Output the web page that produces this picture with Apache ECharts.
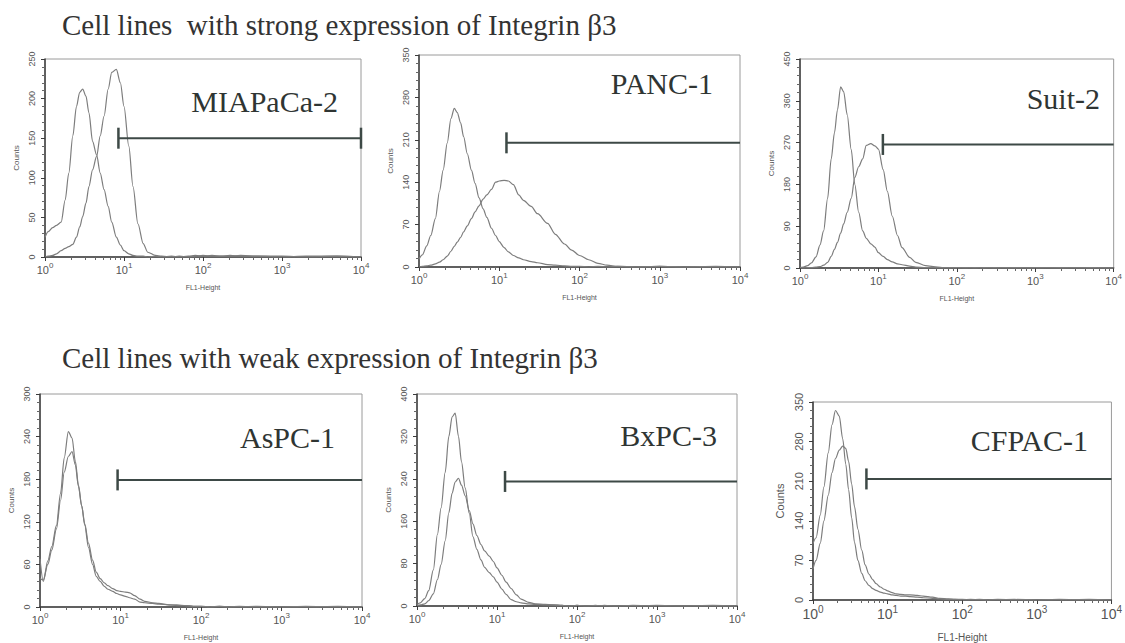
<!DOCTYPE html>
<html>
<head>
<meta charset="utf-8">
<script src="https://cdn.jsdelivr.net/npm/echarts@6/dist/echarts.min.js"></script>
<style>
html, body { margin: 0; padding: 0; background: #fff; }
#container { width: 1125px; height: 643px; }
</style>
</head>
<body>
<div id="container"></div>
<script>
// FL1 channel positions shared by all histograms
var fl1 = [1, 1.1, 1.25, 1.4, 1.6, 1.8, 2, 2.25, 2.5, 2.75,
    3, 3.3, 3.6, 4, 4.5, 5, 5.6, 6.3, 7, 8,
    9, 10, 11.5, 13, 15, 17.5, 20, 25, 30, 40,
    50, 65, 80, 100, 130, 170, 220, 300, 500, 1000,
    2000, 5000, 10000];

// counts, control (left peak) and anti-integrin b3 (stained)
var miaControl = [25, 32, 37, 40, 44, 72, 106, 153, 190, 208,
    212, 203, 182, 146, 129, 106, 85, 64, 44, 25,
    15, 8, 4, 2, 1, 1, 0, 1, 0, 1,
    0, 1, 2, 1, 2, 1, 2, 1, 1, 0,
    1, 1, 0];
var miaStained = [0, 1, 2, 4, 8, 11, 13, 16, 25, 38,
    51, 68, 89, 110, 127, 153, 178, 212, 233, 237,
    220, 190, 140, 89, 42, 17, 6, 2, 1, 0,
    1, 0, 1, 2, 1, 1, 1, 2, 1, 1,
    0, 1, 0];

var pancControl = [13, 20, 35, 52, 80, 125, 160, 205, 245, 262,
    255, 238, 215, 187, 160, 138, 114, 96, 82, 64,
    52, 42, 32, 25, 19, 15, 12, 9, 7, 4,
    3, 2, 1, 1, 0, 1, 0, 1, 0, 1,
    0, 0, 0];
var pancStained = [0, 1, 2, 3, 5, 8, 12, 18, 26, 34,
    41, 49, 58, 68, 80, 91, 101, 112, 119, 128,
    140, 142, 143, 142, 136, 119, 110, 100, 88, 72,
    54, 38, 28, 19, 12, 6, 3, 1, 0, 1,
    0, 1, 0];

var suitControl = [1, 2, 5, 11, 24, 50, 80, 150, 235, 291,
    340, 390, 380, 330, 255, 180, 120, 80, 64, 52,
    45, 33, 25, 18, 13, 9, 7, 4, 2, 1,
    1, 0, 1, 0, 1, 0, 1, 0, 1, 0,
    1, 0, 0];
var suitStained = [0, 0, 1, 1, 2, 3, 6, 12, 25, 40,
    55, 75, 95, 120, 150, 195, 218, 235, 264, 268,
    263, 256, 212, 165, 112, 70, 44, 23, 12, 5,
    3, 1, 0, 1, 0, 1, 0, 1, 0, 1,
    0, 1, 0];

var aspcControl = [68, 36, 65, 85, 115, 160, 210, 247, 238, 205,
    172, 142, 115, 84, 60, 43, 36, 29, 25, 22,
    19, 17, 15, 13, 11, 7, 6, 5, 4, 3,
    2, 2, 1, 1, 0, 1, 0, 0, 1, 0,
    0, 1, 0];
var aspcStained = [40, 38, 60, 80, 110, 150, 190, 212, 219, 200,
    170, 142, 117, 90, 66, 49, 40, 34, 30, 26,
    23, 22, 21, 20, 16, 11, 8, 6, 5, 3,
    3, 2, 1, 1, 0, 1, 0, 1, 0, 0,
    1, 0, 0];

var bxpcControl = [3, 6, 14, 29, 68, 135, 185, 252, 320, 357,
    364, 320, 272, 223, 175, 131, 107, 87, 73, 63,
    55, 45, 32, 22, 12, 8, 6, 4, 3, 2,
    2, 1, 0, 1, 0, 0, 1, 0, 0, 1,
    0, 0, 0];
var bxpcStained = [1, 2, 4, 10, 23, 50, 78, 123, 176, 213,
    234, 241, 228, 208, 180, 155, 133, 116, 104, 94,
    84, 72, 58, 45, 33, 21, 13, 7, 4, 3,
    2, 1, 0, 1, 0, 1, 0, 0, 1, 0,
    0, 1, 0];

var cfpacControl = [100, 110, 150, 200, 260, 310, 335, 325, 285, 240,
    195, 145, 102, 70, 47, 34, 26, 20, 17, 14,
    12, 11, 9, 8, 7, 7, 6, 5, 4, 3,
    2, 1, 1, 0, 1, 0, 0, 1, 0, 0,
    1, 0, 0];
var cfpacStained = [55, 70, 100, 140, 185, 225, 250, 265, 272, 268,
    245, 205, 165, 125, 88, 62, 46, 36, 29, 23,
    19, 16, 13, 11, 10, 9, 9, 8, 7, 5,
    3, 2, 1, 1, 0, 1, 0, 0, 1, 0,
    0, 1, 0];

var cellLines = ['MIAPaCa-2', 'PANC-1', 'Suit-2', 'AsPC-1', 'BxPC-3', 'CFPAC-1'];
var controls = [miaControl, pancControl, suitControl, aspcControl, bxpcControl, cfpacControl];
var stained = [miaStained, pancStained, suitStained, aspcStained, bxpcStained, cfpacStained];
var countMax = [250, 350, 450, 300, 400, 350];
var gateStart = [8.5, 12.3, 11.4, 9.2, 12.6, 5.2];
var gateLevel = [150, 205, 266, 179, 235, 214];

var titles = ['Cell lines  with strong expression of Integrin \u03b23',
    'Cell lines with weak expression of Integrin \u03b23'];

// layout (pixels)
var boxes = [
    {left: 45, top: 59, width: 316, height: 198},
    {left: 419, top: 55, width: 321, height: 212},
    {left: 800, top: 59, width: 319, height: 209},
    {left: 40, top: 394, width: 322, height: 213},
    {left: 417, top: 394, width: 320, height: 212},
    {left: 813, top: 402, width: 301, height: 200}
];
var labelPos = [[338, 101], [713, 83], [1100, 98], [335, 437], [717, 435], [1088, 440]];

var dom = document.getElementById('container');
var myChart = echarts.init(dom, null, {renderer: 'svg'});

var grids = [], xAxes = [], yAxes = [], series = [], graphics = [];
var axisColor = '#3c3c3c';
var textColor = '#555';

for (var i = 0; i < 6; i++) {
    var big = (i === 5);
    grids.push({
        left: boxes[i].left, top: boxes[i].top,
        width: boxes[i].width, height: boxes[i].height,
        show: true, borderColor: '#9a9a9a', borderWidth: 1, backgroundColor: 'transparent'
    });
    xAxes.push({
        gridIndex: i, type: 'log', logBase: 10, min: 1, max: 10000,
        axisLine: {show: true, lineStyle: {color: axisColor, width: 1.5}},
        axisTick: {show: true, length: 4, lineStyle: {color: axisColor}},
        minorTick: {show: true, splitNumber: 8, length: 3, lineStyle: {color: '#666'}},
        splitLine: {show: false},
        axisLabel: {
            margin: 4,
            formatter: function (v) {
                return '{b|10}{s|' + Math.round(Math.log10(v)) + '}';
            },
            rich: {
                b: {fontSize: big ? 14 : 11, color: textColor, fontFamily: 'Liberation Sans', verticalAlign: 'bottom'},
                s: {fontSize: big ? 10 : 8, color: textColor, fontFamily: 'Liberation Sans', verticalAlign: 'top', padding: [0, 0, big ? 7 : 6, 0]}
            }
        },
        name: 'FL1-Height', nameLocation: 'middle', nameGap: big ? 32 : 27,
        nameTextStyle: {fontSize: big ? 10 : 7, color: textColor, fontFamily: 'Liberation Sans'}
    });
    yAxes.push({
        gridIndex: i, type: 'value', min: 0, max: countMax[i], interval: countMax[i] / 5,
        axisLine: {show: true, lineStyle: {color: axisColor, width: 1.5}},
        axisTick: {show: true, length: 4, lineStyle: {color: axisColor}},
        minorTick: {show: true, splitNumber: 5, length: 3, lineStyle: {color: '#666'}},
        splitLine: {show: false},
        axisLabel: {rotate: 90, margin: 9, fontSize: big ? 11 : 9, color: textColor, fontFamily: 'Liberation Sans'},
        name: 'Counts', nameLocation: 'middle', nameGap: big ? 28 : 25,
        nameTextStyle: {fontSize: big ? 11 : 8, color: textColor, fontFamily: 'Liberation Sans'}
    });
    [controls[i], stained[i]].forEach(function (counts) {
        series.push({
            type: 'line', xAxisIndex: i, yAxisIndex: i,
            data: fl1.map(function (x, k) { return [x, counts[k]]; }),
            symbol: 'none', smooth: 0.3, smoothMonotone: 'x',
            lineStyle: {color: '#7d7d7d', width: 1.2},
            animation: false, z: 3
        });
    });
    series.push({
        type: 'line', xAxisIndex: i, yAxisIndex: i,
        data: [
            {value: [gateStart[i], gateLevel[i]], symbol: 'rect'},
            {value: [10000, gateLevel[i]], symbol: i === 0 ? 'rect' : 'none'}
        ],
        symbolSize: [2.5, 21],
        lineStyle: {color: '#3d4946', width: 2},
        itemStyle: {color: '#3d4946'},
        animation: false, z: 4
    });
    graphics.push({
        type: 'text', x: labelPos[i][0], y: labelPos[i][1],
        style: {
            text: cellLines[i], fill: '#2f3533',
            font: '30px "Liberation Serif"', textAlign: 'right', textVerticalAlign: 'middle'
        }
    });
}

graphics.push({
    type: 'text', x: 62, y: 25,
    style: {text: titles[0], fill: '#333', font: '29px "Liberation Serif"', textAlign: 'left', textVerticalAlign: 'middle'}
});
graphics.push({
    type: 'text', x: 62, y: 358,
    style: {text: titles[1], fill: '#333', font: '29px "Liberation Serif"', textAlign: 'left', textVerticalAlign: 'middle'}
});

option = {
    backgroundColor: '#fff',
    animation: false,
    grid: grids,
    xAxis: xAxes,
    yAxis: yAxes,
    series: series,
    graphic: graphics
};

if (option && typeof option === 'object') {
    myChart.setOption(option, true);
}
</script>
</body>
</html>
